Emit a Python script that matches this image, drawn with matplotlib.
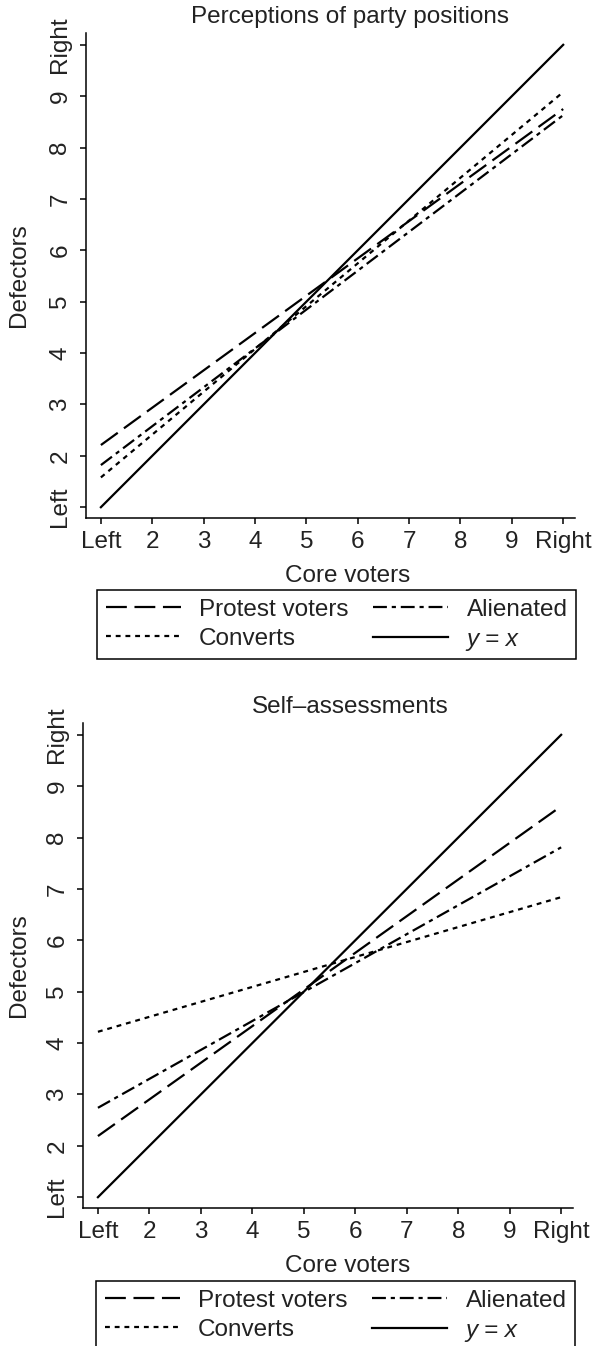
import matplotlib
matplotlib.use('Agg')
import matplotlib.pyplot as plt

plt.rcParams['font.family'] = ['Liberation Sans', 'DejaVu Sans']
plt.rcParams['lines.scale_dashes'] = False

# positions on the 1..10 scale (Left .. Right)
ticks = [1, 2, 3, 4, 5, 6, 7, 8, 9, 10]
tick_labels = ['Left', '2', '3', '4', '5', '6', '7', '8', '9', 'Right']
core = [1, 10]

# fitted line end points (defectors at core = Left, Right)
percep_protest = [2.21, 8.75]
percep_alienated = [1.82, 8.63]
percep_converts = [1.58, 9.08]

self_protest = [2.19, 8.61]
self_alienated = [2.74, 7.81]
self_converts = [4.22, 6.84]

diagonal = [1, 10]

txt = '#222222'
fs = 17.5
W, H = 597, 1346

fig = plt.figure(figsize=(W / 100, H / 100), dpi=100)


def panel(left, right, top, bottom, title, protest, alienated, converts, leg_left, leg_top):
    ax = fig.add_axes([left / W, 1 - bottom / H, (right - left) / W, (bottom - top) / H])
    l1, = ax.plot(core, protest, color='black', lw=1.6, ls=(0, (15, 5.5)))
    l2, = ax.plot(core, converts, color='black', lw=1.6, ls=(0, (3.5, 3.5)))
    l3, = ax.plot(core, alienated, color='black', lw=1.6, ls=(0, (10, 3.5, 3, 3.5)))
    l4, = ax.plot(core, diagonal, color='black', lw=1.6)
    ax.set_xlim(0.71, 10.23)
    ax.set_ylim(0.79, 10.23)
    for s in ['top', 'right']:
        ax.spines[s].set_visible(False)
    for s in ['left', 'bottom']:
        ax.spines[s].set_linewidth(1.1)
    ax.set_xticks(ticks)
    ax.set_xticklabels(tick_labels, fontsize=fs, color=txt)
    ax.set_yticks(ticks)
    ax.set_yticklabels(tick_labels, fontsize=fs, color=txt, rotation=90, va='center')
    ax.tick_params(length=4.5, width=1.1, direction='out')
    ax.tick_params(axis='x', pad=5)
    ax.tick_params(axis='y', pad=6)

    w = right - left
    h = bottom - top
    ax.set_xlabel('Core voters', fontsize=fs, color=txt)
    ax.xaxis.set_label_coords((348 - left) / w, -(565 - 518) / h, transform=ax.transAxes)
    ax.set_ylabel('Defectors', fontsize=fs, color=txt)
    ax.yaxis.set_label_coords((30 - left) / w, 0.5, transform=ax.transAxes)
    ax.text((350 - left) / w, 1 + 16 / h, title, fontsize=fs, color=txt,
            ha='center', va='center', transform=ax.transAxes)

    leg = fig.legend([l1, l2, l3, l4], ['Protest voters', 'Converts', 'Alienated', 'y = x'],
                     loc='upper left', bbox_to_anchor=(leg_left / W, 1 - leg_top / H),
                     ncol=2, fontsize=fs, frameon=True, fancybox=False, framealpha=1,
                     edgecolor='black', handlelength=3.1, handletextpad=0.75,
                     columnspacing=1.0, labelspacing=0.3, borderpad=0.35, borderaxespad=0)
    leg.get_frame().set_linewidth(1.1)
    for t in leg.get_texts():
        t.set_color(txt)
    leg.get_texts()[3].set_style('italic')
    return ax


panel(86, 575, 33, 518, 'Perceptions of party positions',
      percep_protest, percep_alienated, percep_converts, 97, 590)
panel(83, 573, 723, 1208, 'Self\u2013assessments',
      self_protest, self_alienated, self_converts, 96, 1281)

fig.savefig('out.png', dpi=100)
